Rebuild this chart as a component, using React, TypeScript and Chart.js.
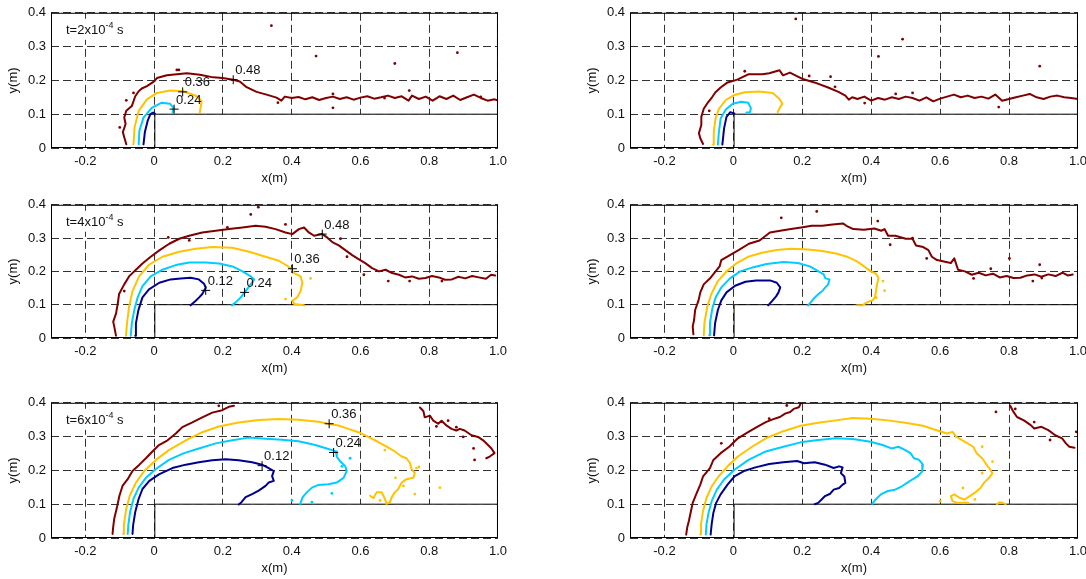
import React, { useEffect, useRef } from 'react';
import { Chart, registerables } from 'chart.js';

Chart.register(...registerables);

type Pt = [number, number];

// ---------- axes ----------
const X_TICKS = [-0.2, 0, 0.2, 0.4, 0.6, 0.8, 1.0];
const Y_TICKS = [0, 0.1, 0.2, 0.3, 0.4];
const STEP: Pt[] = [[0.002, 0], [0.002, 0.1], [1.0, 0.1], [1.0, 0]];

// ---------- t = 2e-4 s, left ----------
const p1L_12: Pt[] = [[-0.031, 0.011], [-0.027, 0.047], [-0.019, 0.080], [-0.011, 0.100], [-0.003, 0.105], [0.002, 0.102]];
const p1L_24: Pt[] = [[-0.045, 0.011], [-0.043, 0.051], [-0.031, 0.090], [-0.007, 0.119], [0.022, 0.134], [0.046, 0.131], [0.056, 0.119], [0.054, 0.105]];
const p1L_36: Pt[] = [[-0.060, 0.011], [-0.057, 0.061], [-0.045, 0.110], [-0.021, 0.144], [0.008, 0.163], [0.046, 0.170], [0.085, 0.168], [0.124, 0.153], [0.138, 0.139], [0.133, 0.105]];
const p1L_48: Pt[] = [[-0.081, 0.011], [-0.087, 0.032], [-0.091, 0.047], [-0.083, 0.071], [-0.087, 0.090], [-0.081, 0.110], [-0.065, 0.124], [-0.055, 0.153], [-0.045, 0.168], [-0.036, 0.176], [-0.021, 0.183], [0.0, 0.197], [0.008, 0.207], [0.037, 0.215], [0.066, 0.218], [0.095, 0.221], [0.133, 0.217], [0.172, 0.209], [0.199, 0.207], [0.230, 0.202], [0.249, 0.197], [0.269, 0.180], [0.298, 0.166], [0.327, 0.158], [0.356, 0.149], [0.37, 0.140], [0.38, 0.152], [0.40, 0.148], [0.42, 0.151], [0.44, 0.144], [0.46, 0.150], [0.48, 0.142], [0.50, 0.148], [0.52, 0.152], [0.54, 0.145], [0.56, 0.150], [0.58, 0.143], [0.60, 0.149], [0.62, 0.153], [0.64, 0.146], [0.66, 0.150], [0.68, 0.155], [0.70, 0.148], [0.72, 0.153], [0.74, 0.140], [0.75, 0.155], [0.77, 0.145], [0.79, 0.152], [0.81, 0.140], [0.83, 0.153], [0.85, 0.145], [0.87, 0.155], [0.89, 0.142], [0.91, 0.150], [0.93, 0.158], [0.95, 0.148], [0.97, 0.140], [0.99, 0.144], [1.0, 0.140]];
const p1L_d48: Pt[] = [[0.066, 0.231], [0.072, 0.231], [0.341, 0.362], [0.471, 0.272], [0.700, 0.250], [0.882, 0.282], [0.52, 0.119], [-0.100, 0.061], [-0.081, 0.141], [-0.060, 0.163], [0.36, 0.134], [0.742, 0.17], [0.95, 0.151], [0.52, 0.16], [0.67, 0.148]];
const p1L_marks: Pt[] = [[0.230, 0.202], [0.083, 0.166], [0.058, 0.115]];
const p1L_markLabels = ['0.48', '0.36', '0.24'];

// ---------- t = 2e-4 s, right ----------
const p1R_12: Pt[] = [[-0.032, 0.010], [-0.027, 0.058], [-0.020, 0.092], [-0.009, 0.106], [0.003, 0.102]];
const p1R_24: Pt[] = [[-0.045, 0.010], [-0.042, 0.048], [-0.037, 0.087], [-0.022, 0.114], [-0.002, 0.131], [0.023, 0.137], [0.043, 0.134], [0.051, 0.118], [0.048, 0.106], [0.038, 0.105]];
const p1R_36: Pt[] = [[-0.059, 0.010], [-0.057, 0.044], [-0.052, 0.087], [-0.042, 0.116], [-0.022, 0.142], [0.003, 0.157], [0.033, 0.165], [0.074, 0.167], [0.114, 0.163], [0.134, 0.145], [0.142, 0.131], [0.134, 0.118], [0.129, 0.106]];
const p1R_48: Pt[] = [[-0.088, 0.012], [-0.096, 0.029], [-0.100, 0.044], [-0.093, 0.068], [-0.093, 0.092], [-0.086, 0.116], [-0.073, 0.136], [-0.062, 0.150], [-0.052, 0.165], [-0.037, 0.179], [-0.017, 0.194], [-0.002, 0.198], [0.013, 0.203], [0.043, 0.218], [0.084, 0.218], [0.104, 0.221], [0.134, 0.230], [0.144, 0.215], [0.164, 0.223], [0.199, 0.205], [0.235, 0.194], [0.275, 0.179], [0.305, 0.166], [0.325, 0.155], [0.335, 0.143], [0.345, 0.150], [0.36, 0.145], [0.38, 0.152], [0.40, 0.140], [0.42, 0.148], [0.44, 0.143], [0.46, 0.150], [0.48, 0.145], [0.50, 0.152], [0.52, 0.148], [0.54, 0.140], [0.56, 0.150], [0.58, 0.138], [0.60, 0.146], [0.62, 0.152], [0.64, 0.158], [0.66, 0.150], [0.68, 0.155], [0.70, 0.148], [0.72, 0.152], [0.74, 0.146], [0.76, 0.158], [0.78, 0.140], [0.80, 0.145], [0.82, 0.150], [0.84, 0.155], [0.86, 0.160], [0.88, 0.150], [0.90, 0.145], [0.92, 0.152], [0.94, 0.155], [0.96, 0.150], [0.98, 0.148], [1.0, 0.145]];
const p1R_d48: Pt[] = [[0.181, 0.382], [0.421, 0.271], [0.491, 0.322], [0.282, 0.211], [0.295, 0.181], [0.471, 0.160], [0.520, 0.163], [0.889, 0.242], [0.770, 0.121], [0.033, 0.227], [0.220, 0.213], [0.381, 0.133], [-0.07, 0.11]];

// ---------- t = 4e-4 s, left ----------
const p2L_12: Pt[] = [[-0.055, 0.007], [-0.053, 0.044], [-0.046, 0.083], [-0.034, 0.122], [-0.015, 0.146], [0.015, 0.166], [0.048, 0.176], [0.077, 0.179], [0.106, 0.181], [0.130, 0.176], [0.145, 0.163], [0.150, 0.151], [0.140, 0.132], [0.131, 0.122], [0.121, 0.112], [0.106, 0.098]];
const p2L_24: Pt[] = [[-0.068, 0.007], [-0.065, 0.044], [-0.058, 0.083], [-0.048, 0.122], [-0.034, 0.156], [-0.010, 0.185], [0.024, 0.205], [0.063, 0.219], [0.102, 0.227], [0.150, 0.227], [0.189, 0.224], [0.228, 0.215], [0.257, 0.200], [0.281, 0.185], [0.291, 0.176], [0.281, 0.161], [0.267, 0.142], [0.252, 0.122], [0.237, 0.107], [0.226, 0.098]];
const p2L_36: Pt[] = [[-0.082, 0.007], [-0.079, 0.044], [-0.073, 0.093], [-0.063, 0.141], [-0.044, 0.185], [-0.015, 0.220], [0.024, 0.244], [0.073, 0.259], [0.121, 0.268], [0.169, 0.273], [0.227, 0.271], [0.276, 0.259], [0.324, 0.244], [0.363, 0.232], [0.382, 0.220], [0.397, 0.210], [0.407, 0.195], [0.426, 0.185], [0.431, 0.166], [0.426, 0.141], [0.416, 0.122], [0.402, 0.112], [0.407, 0.102], [0.436, 0.098]];
const p2L_48: Pt[] = [[-0.111, 0.007], [-0.116, 0.034], [-0.119, 0.049], [-0.111, 0.073], [-0.106, 0.102], [-0.102, 0.132], [-0.087, 0.161], [-0.073, 0.185], [-0.053, 0.205], [-0.034, 0.224], [-0.010, 0.244], [0.015, 0.263], [0.044, 0.283], [0.073, 0.298], [0.102, 0.307], [0.140, 0.317], [0.179, 0.322], [0.218, 0.327], [0.257, 0.332], [0.295, 0.337], [0.324, 0.334], [0.353, 0.327], [0.382, 0.317], [0.402, 0.312], [0.421, 0.327], [0.436, 0.332], [0.450, 0.317], [0.465, 0.307], [0.489, 0.312], [0.503, 0.302], [0.518, 0.288], [0.537, 0.278], [0.557, 0.263], [0.576, 0.249], [0.591, 0.239], [0.615, 0.224], [0.634, 0.210], [0.654, 0.200], [0.673, 0.205], [0.692, 0.195], [0.712, 0.190], [0.730, 0.182], [0.750, 0.185], [0.770, 0.178], [0.789, 0.180], [0.808, 0.186], [0.828, 0.182], [0.846, 0.175], [0.866, 0.176], [0.885, 0.184], [0.905, 0.179], [0.925, 0.186], [0.944, 0.182], [0.965, 0.178], [0.980, 0.190], [0.992, 0.188]];
const p2L_d48: Pt[] = [[0.281, 0.371], [0.303, 0.393], [0.041, 0.302], [0.102, 0.293], [-0.087, 0.141], [0.213, 0.332], [0.382, 0.341], [0.561, 0.244], [0.610, 0.190], [0.681, 0.171], [0.837, 0.171], [0.743, 0.171], [0.542, 0.298]];
const p2L_d36: Pt[] = [[0.455, 0.179], [0.382, 0.117]];
const p2L_marks: Pt[] = [[0.150, 0.143], [0.263, 0.137], [0.402, 0.208], [0.489, 0.312]];
const p2L_markLabels = ['0.12', '0.24', '0.36', '0.48'];

// ---------- t = 4e-4 s, right ----------
const p2R_12: Pt[] = [[-0.056, 0.008], [-0.053, 0.045], [-0.045, 0.084], [-0.035, 0.113], [-0.020, 0.137], [0.005, 0.157], [0.035, 0.169], [0.066, 0.173], [0.106, 0.173], [0.126, 0.166], [0.136, 0.152], [0.131, 0.137], [0.124, 0.125], [0.114, 0.113], [0.101, 0.098]];
const p2R_24: Pt[] = [[-0.070, 0.008], [-0.068, 0.045], [-0.061, 0.089], [-0.051, 0.123], [-0.035, 0.152], [-0.010, 0.179], [0.020, 0.200], [0.056, 0.212], [0.096, 0.222], [0.146, 0.228], [0.187, 0.225], [0.222, 0.215], [0.247, 0.200], [0.262, 0.191], [0.267, 0.179], [0.279, 0.176], [0.275, 0.161], [0.267, 0.152], [0.259, 0.142], [0.247, 0.132], [0.232, 0.117], [0.217, 0.098]];
const p2R_36: Pt[] = [[-0.086, 0.008], [-0.084, 0.045], [-0.076, 0.093], [-0.064, 0.132], [-0.045, 0.171], [-0.020, 0.200], [0.010, 0.225], [0.045, 0.245], [0.086, 0.257], [0.126, 0.264], [0.167, 0.268], [0.217, 0.266], [0.258, 0.261], [0.298, 0.254], [0.328, 0.245], [0.359, 0.230], [0.379, 0.215], [0.399, 0.200], [0.414, 0.193], [0.421, 0.181], [0.417, 0.161], [0.414, 0.142], [0.411, 0.123], [0.404, 0.113], [0.389, 0.108], [0.374, 0.098], [0.359, 0.098]];
const p2R_48: Pt[] = [[-0.116, 0.011], [-0.118, 0.035], [-0.114, 0.054], [-0.111, 0.084], [-0.101, 0.113], [-0.096, 0.137], [-0.086, 0.161], [-0.066, 0.181], [-0.040, 0.215], [-0.035, 0.234], [-0.010, 0.249], [0.015, 0.264], [0.045, 0.283], [0.076, 0.293], [0.106, 0.317], [0.136, 0.322], [0.167, 0.327], [0.197, 0.332], [0.227, 0.337], [0.258, 0.337], [0.288, 0.341], [0.318, 0.344], [0.328, 0.337], [0.348, 0.327], [0.379, 0.325], [0.409, 0.329], [0.429, 0.322], [0.439, 0.327], [0.449, 0.307], [0.470, 0.307], [0.500, 0.298], [0.520, 0.298], [0.530, 0.278], [0.551, 0.273], [0.566, 0.264], [0.576, 0.244], [0.591, 0.234], [0.611, 0.230], [0.631, 0.225], [0.641, 0.239], [0.652, 0.205], [0.672, 0.200], [0.692, 0.190], [0.712, 0.196], [0.732, 0.188], [0.753, 0.193], [0.773, 0.182], [0.793, 0.186], [0.813, 0.180], [0.833, 0.181], [0.853, 0.188], [0.874, 0.191], [0.894, 0.184], [0.914, 0.191], [0.935, 0.186], [0.955, 0.196], [0.970, 0.188], [0.985, 0.191]];
const p2R_d48: Pt[] = [[0.139, 0.361], [0.242, 0.380], [0.419, 0.351], [0.520, 0.300], [0.455, 0.280], [0.801, 0.239], [0.561, 0.239], [0.747, 0.208], [0.697, 0.179], [0.889, 0.220], [0.869, 0.171], [0.895, 0.18]];
const p2R_d36: Pt[] = [[0.434, 0.171], [0.439, 0.142], [0.414, 0.121]];

// ---------- t = 6e-4 s, left ----------
const p3L_12: Pt[] = [[-0.063, 0.012], [-0.061, 0.039], [-0.055, 0.077], [-0.045, 0.116], [-0.034, 0.145], [-0.014, 0.169], [0.014, 0.188], [0.053, 0.207], [0.092, 0.217], [0.130, 0.224], [0.169, 0.230], [0.208, 0.233], [0.246, 0.230], [0.285, 0.224], [0.314, 0.217], [0.333, 0.207], [0.348, 0.198], [0.343, 0.183], [0.348, 0.169], [0.333, 0.164], [0.324, 0.154], [0.304, 0.140], [0.285, 0.130], [0.266, 0.121], [0.254, 0.106], [0.246, 0.099]];
const p3L_24: Pt[] = [[-0.077, 0.012], [-0.075, 0.039], [-0.070, 0.077], [-0.060, 0.116], [-0.045, 0.149], [-0.024, 0.178], [0.005, 0.204], [0.043, 0.231], [0.087, 0.251], [0.130, 0.265], [0.179, 0.280], [0.227, 0.289], [0.275, 0.297], [0.324, 0.294], [0.372, 0.291], [0.420, 0.286], [0.469, 0.275], [0.502, 0.265], [0.517, 0.260], [0.529, 0.256], [0.531, 0.241], [0.541, 0.227], [0.556, 0.212], [0.560, 0.198], [0.551, 0.178], [0.531, 0.164], [0.507, 0.159], [0.478, 0.157], [0.459, 0.149], [0.444, 0.135], [0.432, 0.121], [0.425, 0.101]];
const p3L_36: Pt[] = [[-0.090, 0.012], [-0.088, 0.039], [-0.082, 0.082], [-0.071, 0.125], [-0.053, 0.164], [-0.029, 0.198], [0.005, 0.231], [0.043, 0.260], [0.092, 0.289], [0.140, 0.313], [0.188, 0.330], [0.246, 0.342], [0.304, 0.349], [0.362, 0.352], [0.420, 0.350], [0.478, 0.344], [0.507, 0.338], [0.536, 0.333], [0.565, 0.323], [0.594, 0.313], [0.623, 0.299], [0.652, 0.284], [0.676, 0.270], [0.700, 0.256], [0.720, 0.241], [0.734, 0.236], [0.744, 0.222], [0.749, 0.203], [0.758, 0.193], [0.754, 0.178], [0.734, 0.174], [0.720, 0.164], [0.710, 0.145], [0.700, 0.135], [0.691, 0.121], [0.686, 0.106], [0.676, 0.101], [0.671, 0.116], [0.662, 0.135], [0.647, 0.135], [0.638, 0.118], [0.628, 0.125]];
const p3L_48a: Pt[] = [[-0.121, 0.012], [-0.119, 0.034], [-0.116, 0.058], [-0.109, 0.087], [-0.101, 0.125], [-0.092, 0.154], [-0.077, 0.174], [-0.063, 0.198], [-0.043, 0.217], [-0.024, 0.236], [-0.005, 0.256], [0.014, 0.275], [0.039, 0.289], [0.063, 0.309], [0.082, 0.328], [0.111, 0.342], [0.140, 0.357], [0.169, 0.371], [0.198, 0.378], [0.217, 0.388], [0.232, 0.391]];
const p3L_48b: Pt[] = [[0.773, 0.386], [0.783, 0.376], [0.787, 0.357], [0.802, 0.362], [0.812, 0.347], [0.826, 0.338], [0.836, 0.347], [0.850, 0.333], [0.865, 0.323], [0.879, 0.318], [0.889, 0.323], [0.903, 0.318], [0.923, 0.304], [0.942, 0.299], [0.957, 0.289], [0.971, 0.275], [0.981, 0.265], [0.990, 0.251], [0.976, 0.241], [0.966, 0.236]];
const p3L_d48: Pt[] = [[0.821, 0.330], [0.879, 0.328], [0.899, 0.299], [0.932, 0.231], [0.929, 0.265], [0.855, 0.347], [0.188, 0.391]];
const p3L_d36: Pt[] = [[0.671, 0.260], [0.702, 0.178], [0.763, 0.207], [0.758, 0.130], [0.725, 0.154], [0.657, 0.111], [0.831, 0.149], [0.77, 0.21]];
const p3L_d24: Pt[] = [[0.570, 0.236], [0.546, 0.212], [0.517, 0.132], [0.401, 0.111], [0.459, 0.106]];
const p3L_marks: Pt[] = [[0.314, 0.214], [0.522, 0.253], [0.509, 0.338]];
const p3L_markLabels = ['0.12', '0.24', '0.36'];

// ---------- t = 6e-4 s, right ----------
const p3R_12: Pt[] = [[-0.066, 0.010], [-0.063, 0.041], [-0.058, 0.075], [-0.050, 0.104], [-0.037, 0.129], [-0.017, 0.158], [0.003, 0.182], [0.033, 0.199], [0.064, 0.209], [0.104, 0.219], [0.145, 0.224], [0.185, 0.228], [0.205, 0.221], [0.236, 0.224], [0.266, 0.217], [0.291, 0.207], [0.307, 0.212], [0.317, 0.209], [0.312, 0.192], [0.322, 0.182], [0.325, 0.163], [0.317, 0.158], [0.307, 0.148], [0.291, 0.143], [0.281, 0.131], [0.266, 0.124], [0.256, 0.114], [0.246, 0.104], [0.236, 0.100]];
const p3R_24: Pt[] = [[-0.080, 0.010], [-0.078, 0.041], [-0.072, 0.075], [-0.063, 0.109], [-0.048, 0.143], [-0.027, 0.173], [0.003, 0.202], [0.044, 0.231], [0.094, 0.256], [0.145, 0.270], [0.195, 0.283], [0.246, 0.290], [0.297, 0.295], [0.347, 0.293], [0.398, 0.285], [0.433, 0.275], [0.459, 0.265], [0.479, 0.270], [0.499, 0.260], [0.514, 0.251], [0.524, 0.236], [0.539, 0.231], [0.550, 0.217], [0.548, 0.197], [0.534, 0.182], [0.519, 0.173], [0.504, 0.163], [0.489, 0.153], [0.469, 0.143], [0.448, 0.139], [0.428, 0.129], [0.413, 0.114], [0.403, 0.101]];
const p3R_36a: Pt[] = [[-0.096, 0.010], [-0.094, 0.041], [-0.088, 0.080], [-0.078, 0.119], [-0.063, 0.153], [-0.043, 0.182], [-0.017, 0.212], [0.013, 0.241], [0.054, 0.270], [0.094, 0.295], [0.145, 0.316], [0.195, 0.332], [0.246, 0.341], [0.297, 0.348], [0.347, 0.355], [0.398, 0.353], [0.448, 0.348], [0.499, 0.341], [0.550, 0.332], [0.590, 0.319], [0.620, 0.309], [0.636, 0.314], [0.646, 0.300], [0.671, 0.285], [0.696, 0.270], [0.706, 0.251], [0.722, 0.236], [0.732, 0.221], [0.742, 0.207], [0.752, 0.192], [0.742, 0.178], [0.727, 0.163], [0.717, 0.148], [0.701, 0.134], [0.686, 0.124], [0.671, 0.114], [0.656, 0.119], [0.641, 0.129], [0.631, 0.124], [0.636, 0.109], [0.651, 0.104], [0.681, 0.104]];
const p3R_36b: Pt[] = [[0.765, 0.100], [0.772, 0.106], [0.782, 0.104], [0.790, 0.100]];
const p3R_48a: Pt[] = [[-0.137, 0.010], [-0.134, 0.031], [-0.129, 0.051], [-0.123, 0.080], [-0.118, 0.104], [-0.108, 0.129], [-0.096, 0.158], [-0.088, 0.182], [-0.068, 0.207], [-0.058, 0.231], [-0.037, 0.251], [-0.012, 0.270], [0.013, 0.295], [0.044, 0.314], [0.069, 0.329], [0.094, 0.343], [0.114, 0.351], [0.135, 0.358], [0.150, 0.368], [0.165, 0.373], [0.175, 0.382], [0.190, 0.387], [0.195, 0.397]];
const p3R_48b: Pt[] = [[0.803, 0.392], [0.813, 0.373], [0.823, 0.358], [0.843, 0.348], [0.863, 0.334], [0.873, 0.324], [0.894, 0.329], [0.914, 0.319], [0.934, 0.304], [0.954, 0.295], [0.965, 0.280], [0.975, 0.270], [0.990, 0.267]];
const p3R_d48: Pt[] = [[0.155, 0.392], [0.104, 0.353], [0.762, 0.373], [0.818, 0.382], [0.873, 0.343], [0.919, 0.290], [0.995, 0.314], [-0.035, 0.28]];
const p3R_d36: Pt[] = [[0.752, 0.226], [0.722, 0.192], [0.666, 0.148], [0.600, 0.109], [0.701, 0.114], [0.722, 0.270]];

// ---------- styling ----------
const C12 = '#000090';
const C24 = '#00CCFF';
const C36 = '#FFC300';
const C48 = '#800000';
const FONT = '"Liberation Sans", Arial, Helvetica, sans-serif';

interface Box { left: number; top: number; width: number; height: number; }
interface Panel {
  box: Box;
  lines: { pts: Pt[]; color: string }[];
  dots: { pts: Pt[]; color: string }[];
  marks?: Pt[];
  markLabels?: string[];
  time?: string;
}

const Y_AXIS_W = 51;
const X_AXIS_H = 42;
const PAD_TOP = 10;
const PAD_RIGHT = 14;

const PANELS: Panel[] = [
  {
    box: { left: 51, top: 10, width: 448, height: 138 },
    lines: [{ pts: p1L_48, color: C48 }, { pts: p1L_36, color: C36 }, { pts: p1L_24, color: C24 }, { pts: p1L_12, color: C12 }],
    dots: [{ pts: p1L_d48, color: C48 }],
    marks: p1L_marks, markLabels: p1L_markLabels, time: '2',
  },
  {
    box: { left: 630, top: 10, width: 449, height: 138 },
    lines: [{ pts: p1R_48, color: C48 }, { pts: p1R_36, color: C36 }, { pts: p1R_24, color: C24 }, { pts: p1R_12, color: C12 }],
    dots: [{ pts: p1R_d48, color: C48 }],
  },
  {
    box: { left: 51, top: 202, width: 448, height: 136 },
    lines: [{ pts: p2L_48, color: C48 }, { pts: p2L_36, color: C36 }, { pts: p2L_24, color: C24 }, { pts: p2L_12, color: C12 }],
    dots: [{ pts: p2L_d48, color: C48 }, { pts: p2L_d36, color: C36 }],
    marks: p2L_marks, markLabels: p2L_markLabels, time: '4',
  },
  {
    box: { left: 630, top: 202, width: 449, height: 136 },
    lines: [{ pts: p2R_48, color: C48 }, { pts: p2R_36, color: C36 }, { pts: p2R_24, color: C24 }, { pts: p2R_12, color: C12 }],
    dots: [{ pts: p2R_d48, color: C48 }, { pts: p2R_d36, color: C36 }],
  },
  {
    box: { left: 51, top: 400, width: 448, height: 138 },
    lines: [{ pts: p3L_48a, color: C48 }, { pts: p3L_48b, color: C48 }, { pts: p3L_36, color: C36 }, { pts: p3L_24, color: C24 }, { pts: p3L_12, color: C12 }],
    dots: [{ pts: p3L_d48, color: C48 }, { pts: p3L_d36, color: C36 }, { pts: p3L_d24, color: C24 }],
    marks: p3L_marks, markLabels: p3L_markLabels, time: '6',
  },
  {
    box: { left: 630, top: 400, width: 449, height: 138 },
    lines: [{ pts: p3R_48a, color: C48 }, { pts: p3R_48b, color: C48 }, { pts: p3R_36a, color: C36 }, { pts: p3R_36b, color: C36 }, { pts: p3R_24, color: C24 }, { pts: p3R_12, color: C12 }],
    dots: [{ pts: p3R_d48, color: C48 }, { pts: p3R_d36, color: C36 }],
  },
];

const toXY = (pts: Pt[]) => pts.map(([x, y]) => ({ x, y }));
const fmtX = (v: number) => (Math.abs(v) < 1e-9 ? '0' : Math.abs(v - 1) < 1e-9 ? '1.0' : v.toFixed(1));
const fmtY = (v: number) => (Math.abs(v) < 1e-9 ? '0' : v.toFixed(1));

function makeAnnot(p: Panel) {
  return {
    id: 'annot',
    afterDatasetsDraw(chart: any) {
      const { ctx, chartArea, scales } = chart;
      const xs = scales.x;
      const ys = scales.y;
      ctx.save();
      ctx.textBaseline = 'middle';
      ctx.textAlign = 'left';
      if (p.time) {
        const x0 = chartArea.left + 15;
        const y0 = chartArea.top + 18;
        const a = `t=${p.time}x10`;
        ctx.font = `13px ${FONT}`;
        const w1 = ctx.measureText(a).width;
        ctx.font = `9px ${FONT}`;
        const w2 = ctx.measureText('-4').width;
        ctx.font = `13px ${FONT}`;
        const w3 = ctx.measureText(' s').width;
        ctx.fillStyle = '#fff';
        ctx.fillRect(x0 - 2, y0 - 12, w1 + w2 + w3 + 4, 21);
        ctx.fillStyle = '#111';
        ctx.fillText(a, x0, y0);
        ctx.font = `9px ${FONT}`;
        ctx.fillText('-4', x0 + w1, y0 - 5);
        ctx.font = `13px ${FONT}`;
        ctx.fillText(' s', x0 + w1 + w2, y0);
      }
      ctx.strokeStyle = '#000';
      ctx.lineWidth = 1;
      ctx.setLineDash([]);
      ctx.strokeRect(chartArea.left + 0.5, chartArea.top + 0.5, chartArea.width - 1, chartArea.height - 1);
      ctx.fillStyle = '#111';
      ctx.font = `13px ${FONT}`;
      if (p.marks && p.markLabels) {
        p.marks.forEach((m, i) => {
          const px = xs.getPixelForValue(m[0]);
          const py = ys.getPixelForValue(m[1]);
          ctx.fillText(p.markLabels![i], px + 2, py - 9);
        });
      }
      ctx.restore();
    },
  };
}

function PanelChart({ p }: { p: Panel }) {
  const ref = useRef<HTMLCanvasElement | null>(null);
  const cw = p.box.width + Y_AXIS_W + PAD_RIGHT;
  const chh = p.box.height + PAD_TOP + X_AXIS_H;
  useEffect(() => {
    if (!ref.current) return;
    const datasets: any[] = [];
    datasets.push({
      data: toXY(STEP), showLine: true, borderColor: '#000', borderWidth: 1, pointRadius: 0,
      fill: 'origin', backgroundColor: '#ffffff', order: 10, tension: 0,
    });
    p.lines.forEach((l) => datasets.push({
      data: toXY(l.pts), showLine: true, borderColor: l.color, borderWidth: 2, pointRadius: 0,
      fill: false, order: 2, tension: 0, borderJoinStyle: 'round', borderCapStyle: 'round',
    }));
    p.dots.forEach((d) => datasets.push({
      data: toXY(d.pts), showLine: false, pointRadius: 1.4, pointBackgroundColor: d.color,
      pointBorderColor: d.color, pointBorderWidth: 0, order: 2,
    }));
    if (p.marks) {
      datasets.push({
        data: toXY(p.marks), showLine: false, pointStyle: 'cross', pointRadius: 4.5,
        pointBorderColor: '#000', pointBorderWidth: 1, order: 0,
      });
    }
    const tickFont = { family: FONT, size: 13 };
    const chart = new Chart(ref.current, {
      type: 'scatter',
      data: { datasets },
      plugins: [makeAnnot(p)],
      options: {
        animation: false,
        responsive: false,
        maintainAspectRatio: false,
        devicePixelRatio: 1,
        events: [],
        layout: { padding: { top: PAD_TOP, right: PAD_RIGHT, left: 0, bottom: 0 } },
        plugins: { legend: { display: false }, tooltip: { enabled: false } },
        scales: {
          x: {
            type: 'linear', min: -0.3, max: 1.0,
            afterBuildTicks: (s: any) => { s.ticks = X_TICKS.map((v) => ({ value: v })); },
            afterFit: (s: any) => { s.height = X_AXIS_H; },
            grid: { color: '#333', lineWidth: 1, drawTicks: false },
            border: { display: false, dash: [8, 4] },
            ticks: { padding: 6, color: '#111', font: tickFont, maxRotation: 0, autoSkip: false, callback: (v: any) => fmtX(Number(v)) },
            title: { display: true, text: 'x(m)', color: '#111', font: tickFont, padding: { top: 0, bottom: 4 } },
          },
          y: {
            type: 'linear', min: 0, max: 0.4,
            afterBuildTicks: (s: any) => { s.ticks = Y_TICKS.map((v) => ({ value: v })); },
            afterFit: (s: any) => { s.width = Y_AXIS_W; },
            grid: { color: '#333', lineWidth: 1, drawTicks: false },
            border: { display: false, dash: [8, 4] },
            ticks: { padding: 5, color: '#111', font: tickFont, autoSkip: false, callback: (v: any) => fmtY(Number(v)) },
            title: { display: true, text: 'y(m)', color: '#111', font: tickFont, padding: { top: 6, bottom: 0 } },
          },
        },
      } as any,
    });
    return () => chart.destroy();
  }, [p]);
  return (
    <canvas
      ref={ref}
      width={cw}
      height={chh}
      style={{ position: 'absolute', left: p.box.left - Y_AXIS_W, top: p.box.top - PAD_TOP, width: cw, height: chh }}
    />
  );
}

export default function App() {
  return (
    <div style={{ position: 'absolute', left: 0, top: 0, width: 1086, height: 579, background: '#fff', overflow: 'hidden' }}>
      {PANELS.map((p, i) => <PanelChart key={i} p={p} />)}
    </div>
  );
}
